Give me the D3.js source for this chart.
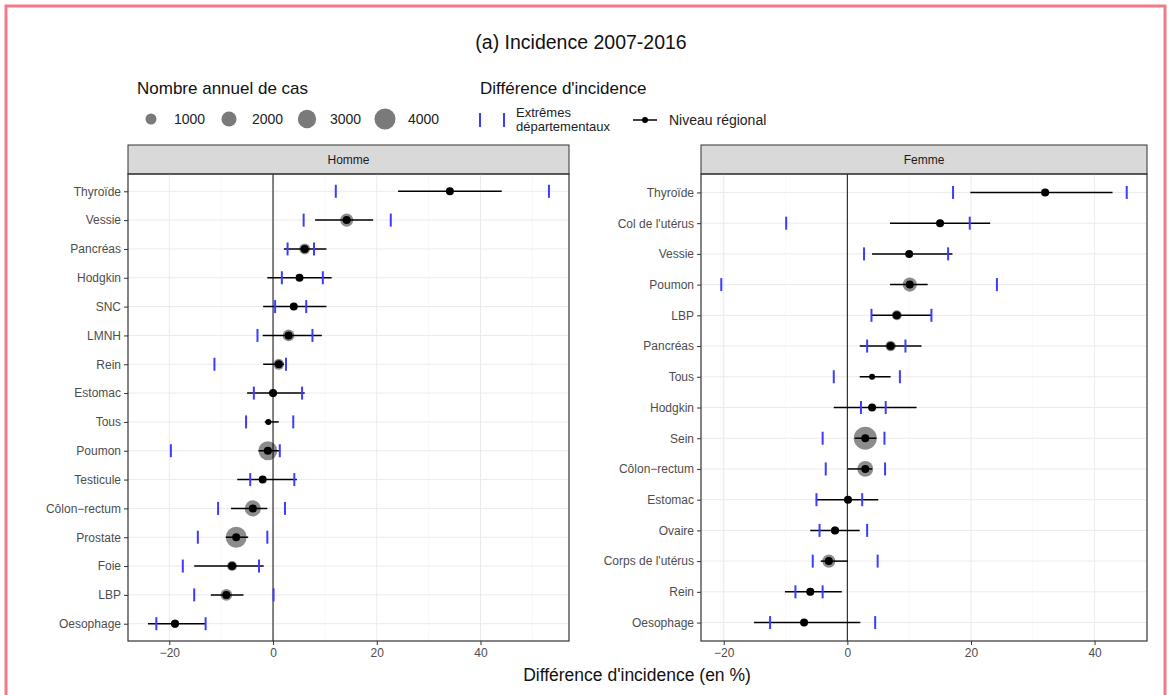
<!DOCTYPE html>
<html>
<head>
<meta charset="utf-8">
<script src="https://cdn.jsdelivr.net/npm/d3@7"></script>
<style>
  body { margin: 0; background: #fff; }
  svg { font-family: "Liberation Sans", Arial, sans-serif; }
</style>
</head>
<body>
<div id="container"></div>
<script>
// Homme
let hommeCats  = ["Thyroïde","Vessie","Pancréas","Hodgkin","SNC","LMNH","Rein","Estomac","Tous","Poumon","Testicule","Côlon\u2212rectum","Prostate","Foie","LBP","Oesophage"];
let hommeDiff  = [34.1, 14.2, 6.1, 5.1, 4.0, 3.0, 1.1, 0.0, -0.9, -1.0, -2.0, -3.9, -7.1, -7.9, -9.0, -18.9];
let hommeCiLo  = [24.1, 8.1, 2.1, -1.1, -1.9, -2.0, -1.9, -5.0, -1.6, -2.8, -6.9, -8.1, -9.1, -15.2, -12.0, -24.1];
let hommeCiHi  = [44.1, 19.3, 10.3, 11.3, 10.3, 9.4, 2.1, 6.1, 1.1, 1.4, 4.6, -1.1, -4.8, -1.8, -5.7, -13.0];
let hommeExtLo = [12.1, 5.9, 2.8, 1.7, 0.4, -3.0, -11.3, -3.7, -5.2, -19.7, -4.4, -10.6, -14.5, -17.4, -15.2, -22.5];
let hommeExtHi = [53.2, 22.7, 7.9, 9.6, 6.4, 7.6, 2.5, 5.6, 3.9, 1.3, 4.1, 2.3, -1.1, -2.7, 0.1, -13.0];
let hommeCas   = [150, 1700, 1200, 150, 300, 1400, 1200, 600, null, 3600, 200, 2600, 4400, 1000, 1400, 700];

// Femme
let femmeCats  = ["Thyroïde","Col de l'utérus","Vessie","Poumon","LBP","Pancréas","Tous","Hodgkin","Sein","Côlon\u2212rectum","Estomac","Ovaire","Corps de l'utérus","Rein","Oesophage"];
let femmeDiff  = [32.0, 15.0, 10.0, 10.1, 8.0, 7.0, 4.0, 4.0, 2.9, 2.9, 0.1, -2.0, -3.0, -6.0, -7.0];
let femmeCiLo  = [19.9, 6.9, 4.0, 6.9, 3.9, 2.0, 2.0, -2.2, 1.2, 0.1, -5.1, -6.0, -4.3, -10.1, -15.1];
let femmeCiHi  = [42.9, 23.1, 17.0, 13.0, 13.6, 12.0, 7.0, 11.2, 4.7, 4.0, 5.0, 2.0, 0.1, -0.9, 2.1];
let femmeExtLo = [17.1, -9.9, 2.7, -20.4, 3.9, 3.2, -2.2, 2.2, -4.0, -3.5, -5.0, -4.5, -5.6, -8.4, -12.5];
let femmeExtHi = [45.2, 19.8, 16.3, 24.2, 13.6, 9.4, 8.5, 6.2, 6.0, 6.1, 2.4, 3.2, 4.9, -4.0, 4.5];
let femmeCas   = [500, 300, 400, 2000, 1000, 1100, null, 150, 5300, 2500, 400, 600, 1700, 600, 200];

let xTicks = [-20, 0, 20, 40];
let legendSizes = [1000, 2000, 3000, 4000];

let svg = d3.select('#container')
            .append('svg')
            .attr('width', 1170)
            .attr('height', 695);

// page frame
svg.append('rect')
    .attr('x', 6).attr('y', 6)
    .attr('width', 1159).attr('height', 720)
    .attr('fill', 'none')
    .attr('stroke', '#f27b86')
    .attr('stroke-width', 3);

svg.append('text')
    .attr('x', 581).attr('y', 49)
    .attr('text-anchor', 'middle')
    .attr('font-size', 19.5)
    .attr('fill', '#111')
    .text('(a) Incidence 2007-2016');

let rScale = d3.scaleSqrt().domain([0, 4000]).range([0, 10]);

// legend: taille
svg.append('text').attr('x', 137).attr('y', 94).attr('font-size', 17).attr('fill', '#111')
    .text('Nombre annuel de cas');
legendSizes.forEach((s, i) => {
    let cx = 151 + i * 78;
    svg.append('circle').attr('cx', cx).attr('cy', 119).attr('r', rScale(s) + 0.5)
        .attr('fill', '#7a7a7a');
    svg.append('text').attr('x', cx + 23).attr('y', 124).attr('font-size', 14).attr('fill', '#222')
        .text(s);
});

// legend: différence
svg.append('text').attr('x', 480).attr('y', 94).attr('font-size', 17).attr('fill', '#111')
    .text("Différence d'incidence");
[480, 504].forEach(x => {
    svg.append('line').attr('x1', x).attr('x2', x).attr('y1', 113).attr('y2', 127)
        .attr('stroke', '#3c3cff').attr('stroke-width', 2);
});
svg.append('text').attr('x', 516).attr('y', 117).attr('font-size', 13).attr('fill', '#222').text('Extrêmes');
svg.append('text').attr('x', 516).attr('y', 131).attr('font-size', 13).attr('fill', '#222').text('départementaux');
svg.append('line').attr('x1', 633).attr('x2', 657).attr('y1', 120).attr('y2', 120)
    .attr('stroke', '#000').attr('stroke-width', 1.5);
svg.append('circle').attr('cx', 645).attr('cy', 120).attr('r', 3).attr('fill', '#000');
svg.append('text').attr('x', 669).attr('y', 125).attr('font-size', 14).attr('fill', '#222').text('Niveau régional');

function drawPanel(title, left, right, cats, diff, ciLo, ciHi, extLo, extHi, cas){
    let top = 174, bottom = 641;
    let g = svg.append('g');

    let lo = d3.min([d3.min(ciLo), d3.min(extLo), d3.min(diff)]);
    let hi = d3.max([d3.max(ciHi), d3.max(extHi), d3.max(diff)]);
    let pad = (hi - lo) * 0.05;
    let x = d3.scaleLinear().domain([lo - pad, hi + pad]).range([left, right]);
    let y = d3.scalePoint().domain(cats).range([top, bottom]).padding(0.6);

    // strip
    g.append('rect').attr('x', left).attr('y', 145).attr('width', right - left).attr('height', top - 145)
        .attr('fill', '#d9d9d9').attr('stroke', '#333').attr('stroke-width', 1);
    g.append('text').attr('x', (left + right) / 2).attr('y', 164).attr('text-anchor', 'middle')
        .attr('font-size', 12).attr('fill', '#1a1a1a').text(title);

    // grid
    let minor = [];
    for (let v = -30; v <= 50; v += 20) if (v > lo - pad && v < hi + pad) minor.push(v);
    g.selectAll('.gmin').data(minor).enter().append('line')
        .attr('x1', d => x(d)).attr('x2', d => x(d)).attr('y1', top).attr('y2', bottom)
        .attr('stroke', '#f4f4f4').attr('stroke-width', 0.6);
    g.selectAll('.gmaj').data(xTicks).enter().append('line')
        .attr('x1', d => x(d)).attr('x2', d => x(d)).attr('y1', top).attr('y2', bottom)
        .attr('stroke', '#ebebeb').attr('stroke-width', 1);
    g.selectAll('.gy').data(cats).enter().append('line')
        .attr('x1', left).attr('x2', right).attr('y1', d => y(d)).attr('y2', d => y(d))
        .attr('stroke', '#ebebeb').attr('stroke-width', 1);

    // zero line
    g.append('line').attr('x1', x(0)).attr('x2', x(0)).attr('y1', top).attr('y2', bottom)
        .attr('stroke', '#222').attr('stroke-width', 1.1);

    let rows = cats.map((c, i) => ({c: c, d: diff[i], lo: ciLo[i], hi: ciHi[i], elo: extLo[i], ehi: extHi[i], n: cas[i]}));

    // CI
    g.selectAll('.ci').data(rows).enter().append('line')
        .attr('x1', d => x(d.lo)).attr('x2', d => x(d.hi))
        .attr('y1', d => y(d.c)).attr('y2', d => y(d.c))
        .attr('stroke', '#000').attr('stroke-width', 1.5);

    // extremes
    rows.forEach(r => {
        [r.elo, r.ehi].forEach(v => {
            g.append('line').attr('x1', x(v)).attr('x2', x(v))
                .attr('y1', y(r.c) - 6.5).attr('y2', y(r.c) + 6.5)
                .attr('stroke', '#3c3cff').attr('stroke-width', 2);
        });
    });

    // case circles
    g.selectAll('.cas').data(rows.filter(d => d.n != null)).enter().append('circle')
        .attr('cx', d => x(d.d)).attr('cy', d => y(d.c)).attr('r', d => rScale(d.n))
        .attr('fill', '#000').attr('opacity', 0.45);

    // points
    g.selectAll('.pt').data(rows).enter().append('circle')
        .attr('cx', d => x(d.d)).attr('cy', d => y(d.c))
        .attr('r', d => d.n == null ? 3 : 4)
        .attr('fill', '#000');

    // border
    g.append('rect').attr('x', left).attr('y', top).attr('width', right - left).attr('height', bottom - top)
        .attr('fill', 'none').attr('stroke', '#333').attr('stroke-width', 1.2);

    // axes
    let yAxis = g.append('g').attr('transform', `translate(${left},0)`)
        .call(d3.axisLeft(y).tickSize(4).tickPadding(3));
    let xAxis = g.append('g').attr('transform', `translate(0,${bottom})`)
        .call(d3.axisBottom(x).tickValues(xTicks).tickSize(4).tickPadding(3));
    [yAxis, xAxis].forEach(a => {
        a.select('.domain').remove();
        a.selectAll('line').attr('stroke', '#333');
        a.selectAll('text').attr('font-size', 12).attr('fill', '#4d4d4d')
            .attr('font-family', '"Liberation Sans", Arial, sans-serif');
    });
    xAxis.selectAll('text').text(d => d < 0 ? '\u2212' + Math.abs(d) : d);
}

drawPanel('Homme', 128, 569, hommeCats, hommeDiff, hommeCiLo, hommeCiHi, hommeExtLo, hommeExtHi, hommeCas);
drawPanel('Femme', 701, 1147, femmeCats, femmeDiff, femmeCiLo, femmeCiHi, femmeExtLo, femmeExtHi, femmeCas);

svg.append('text')
    .attr('x', 637).attr('y', 681)
    .attr('text-anchor', 'middle')
    .attr('font-size', 17.5)
    .attr('fill', '#111')
    .text("Différence d'incidence (en %)");
</script>
</body>
</html>
